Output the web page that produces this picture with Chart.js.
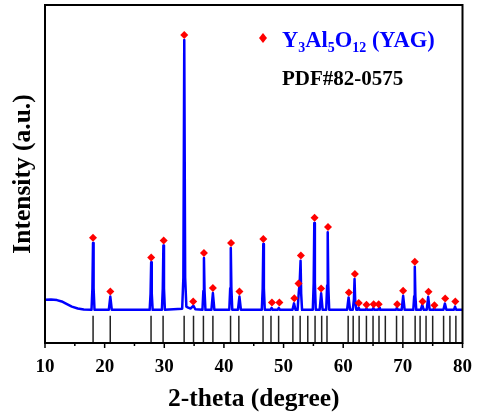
<!DOCTYPE html>
<html>
<head>
<meta charset="utf-8">
<script src="https://cdn.jsdelivr.net/npm/chart.js@4/dist/chart.umd.min.js"></script>
<style>
  html, body { margin: 0; padding: 0; background: #fff; }
  canvas { display: block; }
</style>
</head>
<body>
<canvas id="xrd" width="477" height="419"></canvas>
<script>

// perfil medido: pares [2θ, intensidad]
const patron = [
  [10, 3.7], [11, 3.8], [12, 3.6], [12.8, 3.1], [13.6, 2.2], [14.5, 1.2], [15.5, 0.5], [16.5, 0.1],
  [17.8, 0], [17.95, 8], [18.05, 24.8], [18.15, 8], [18.3, 0],
  [20.7, 0], [20.95, 4.9], [21.2, 0],
  [27.55, 0], [27.7, 6], [27.8, 17.6], [27.9, 6], [28.05, 0],
  [29.6, 0], [29.75, 8], [29.85, 23.8], [29.95, 8], [30.1, 0],
  [33.0, 0.4], [33.2, 12], [33.35, 100], [33.5, 12], [33.7, 1.2], [34.0, 0.8], [34.4, 0.5], [34.9, 1.5], [35.2, 0.2],
  [36.4, 0], [36.55, 7], [36.65, 19.2], [36.75, 7], [36.9, 0],
  [37.9, 0], [38.15, 6.2], [38.4, 0],
  [40.9, 0], [41.05, 8], [41.15, 22.9], [41.25, 8], [41.4, 0],
  [42.35, 0], [42.6, 4.9], [42.85, 0],
  [46.35, 0], [46.5, 8], [46.6, 24.4], [46.7, 8], [46.85, 0],
  [47.8, 0], [48.0, 0.7], [48.2, 0], [49.0, 0], [49.2, 0.7], [49.4, 0],
  [51.5, 0], [51.75, 2.4], [52.0, 0],
  [52.35, 0], [52.55, 6.5], [52.7, 10], [52.85, 18.2], [52.95, 6], [53.1, 0],
  [54.9, 0], [55.05, 10], [55.15, 32.2], [55.25, 10], [55.4, 0],
  [56.05, 0], [56.3, 6.1], [56.55, 0],
  [57.15, 0], [57.3, 9], [57.4, 28.8], [57.5, 9], [57.65, 0],
  [60.65, 0], [60.9, 4.6], [61.15, 0],
  [61.6, 0], [61.8, 4], [61.9, 11.4], [62.0, 4], [62.2, 0],
  [62.45, 0], [62.6, 0.8], [62.75, 0],
  [63.75, 0], [63.9, 0.5], [64.05, 0],
  [64.9, 0], [65.05, 0.7], [65.2, 0], [65.85, 0], [66.0, 0.7], [66.15, 0],
  [68.85, 0], [69.0, 0.8], [69.15, 0],
  [69.8, 0], [70.05, 5.2], [70.3, 0],
  [71.75, 0], [71.9, 5], [72.0, 16.0], [72.1, 5], [72.25, 0],
  [73.0, 0], [73.25, 1.8], [73.5, 0],
  [74.0, 0], [74.25, 4.8], [74.5, 0],
  [75.1, 0], [75.25, 0.6], [75.4, 0],
  [76.8, 0], [77.05, 2.3], [77.3, 0],
  [78.55, 0], [78.75, 1.2], [78.95, 0], [80, 0]
];

// picos marcados como YAG (rombos rojos)
const picosX = [18.05, 20.95, 27.8, 29.9, 33.35, 34.85, 36.65, 38.15, 41.2, 42.6, 46.6,
                48.05, 49.3, 51.8, 52.5, 52.9, 55.2, 56.3, 57.45, 60.95, 61.95, 62.6,
                63.9, 65.1, 65.95, 69.05, 70.05, 72.0, 73.3, 74.3, 75.3, 77.1, 78.8];
const picosY = [26.7, 6.8, 19.4, 25.7, 101.9, 3.1, 21.1, 8.1, 24.8, 6.8, 26.3,
                2.7, 2.7, 4.3, 9.8, 20.1, 34.1, 7.9, 30.7, 6.4, 13.3, 2.5,
                1.9, 2.1, 2.1, 2.1, 7.1, 17.8, 3.1, 6.7, 1.7, 4.2, 3.1];

// líneas de referencia PDF#82-0575
const lineasPDF = [18.06, 20.94, 27.78, 29.8, 33.33, 34.9, 36.56, 38.15, 41.11, 42.5,
                   46.56, 47.89, 49.17, 51.56, 52.78, 54.06, 55.28, 56.39, 57.28, 60.83,
                   61.67, 62.67, 63.89, 65.0, 66.0, 67.06, 68.94, 70.0, 72.06, 72.89,
                   73.89, 75.0, 76.83, 77.89, 78.89];
const lineaBase = -12.3;   // fondo del eje
const lineaTope = -2.2;    // altura de las líneas de referencia

const leyenda = [['Y', 0], ['3', 1], ['Al', 0], ['5', 1], ['O', 0], ['12', 1], [' (YAG)', 0]];
const tarjeta = 'PDF#82-0575';

const FUENTE = '"Liberation Serif", "Times New Roman", serif';
const AZUL = '#0000ff';
const ROJO = '#ff0000';

// ── Construcción de datasets ───────────────────────────────────

const puntosCurva = patron.map(([x, y]) => ({ x, y }));
const puntosPicos = picosX.map((x, i) => ({ x, y: picosY[i] }));
const puntosLineas = [];
lineasPDF.forEach(x => {
  puntosLineas.push({ x, y: lineaBase }, { x, y: lineaTope }, { x, y: null });
});

// marco, marcas del eje x y leyenda dibujados a mano
const marcoPlugin = {
  id: 'marco',
  afterDatasetsDraw(chart) {
    const { ctx, chartArea: a, scales: { x } } = chart;
    ctx.save();
    ctx.strokeStyle = '#000';
    ctx.lineWidth = 2;
    ctx.strokeRect(a.left, a.top, a.right - a.left, a.bottom - a.top);

    ctx.lineWidth = 1.5;
    for (let v = x.min; v <= x.max; v += 5) {
      const px = x.getPixelForValue(v);
      const largo = v % 10 === 0 ? 5 : 3;
      ctx.beginPath();
      ctx.moveTo(px, a.bottom);
      ctx.lineTo(px, a.bottom + largo);
      ctx.stroke();
    }

    // rombo de la leyenda
    const rx = a.left + 218, ry = a.top + 33;
    ctx.fillStyle = ROJO;
    ctx.beginPath();
    ctx.moveTo(rx, ry - 5);
    ctx.lineTo(rx + 4, ry);
    ctx.lineTo(rx, ry + 5);
    ctx.lineTo(rx - 4, ry);
    ctx.closePath();
    ctx.fill();

    // Y3Al5O12 (YAG) con subíndices
    let cx = a.left + 237;
    const base = a.top + 42;
    ctx.fillStyle = AZUL;
    ctx.textBaseline = 'alphabetic';
    leyenda.forEach(([txt, sub]) => {
      ctx.font = sub ? 'bold 14px ' + FUENTE : 'bold 22.5px ' + FUENTE;
      ctx.fillText(txt, cx, sub ? base + 5 : base);
      cx += ctx.measureText(txt).width;
    });

    ctx.fillStyle = '#000';
    ctx.font = 'bold 21px ' + FUENTE;
    ctx.fillText(tarjeta, a.left + 237, a.top + 80);
    ctx.restore();
  }
};

new Chart(document.getElementById('xrd'), {
  type: 'scatter',
  data: {
    datasets: [
      {
        label: 'YAG',
        data: puntosPicos,
        pointStyle: 'rectRot',
        pointRadius: 4,
        pointBackgroundColor: ROJO,
        pointBorderWidth: 0,
        showLine: false
      },
      {
        label: 'Muestra',
        data: puntosCurva,
        showLine: true,
        borderColor: AZUL,
        borderWidth: 2.5,
        borderJoinStyle: 'round',
        pointRadius: 0,
        tension: 0
      },
      {
        label: 'PDF#82-0575',
        data: puntosLineas,
        showLine: true,
        spanGaps: false,
        borderColor: '#222',
        borderWidth: 1.5,
        pointRadius: 0
      }
    ]
  },
  options: {
    responsive: false,
    animation: false,
    events: [],
    layout: { padding: { left: 0, right: 4, top: 5, bottom: 0 } },
    plugins: { legend: { display: false }, tooltip: { enabled: false } },
    scales: {
      x: {
        type: 'linear',
        min: 10,
        max: 80,
        grid: { display: false },
        border: { display: false },
        ticks: {
          stepSize: 10,
          padding: 5,
          color: '#000',
          font: { family: FUENTE, size: 19, weight: 'bold' }
        },
        title: {
          display: true,
          text: '2-theta (degree)',
          color: '#000',
          padding: { top: 0, bottom: 4 },
          font: { family: FUENTE, size: 25.5, weight: 'bold' }
        },
        afterFit: s => { s.height = 76; }
      },
      y: {
        min: lineaBase,
        max: 113,
        grid: { display: false },
        border: { display: false },
        ticks: { display: false },
        title: {
          display: true,
          text: 'Intensity (a.u.)',
          color: '#000',
          padding: { top: 8, bottom: 0 },
          font: { family: FUENTE, size: 25.5, weight: 'bold' }
        },
        afterFit: s => { s.width = 45; }
      }
    }
  },
  plugins: [marcoPlugin]
});
</script>
</body>
</html>
